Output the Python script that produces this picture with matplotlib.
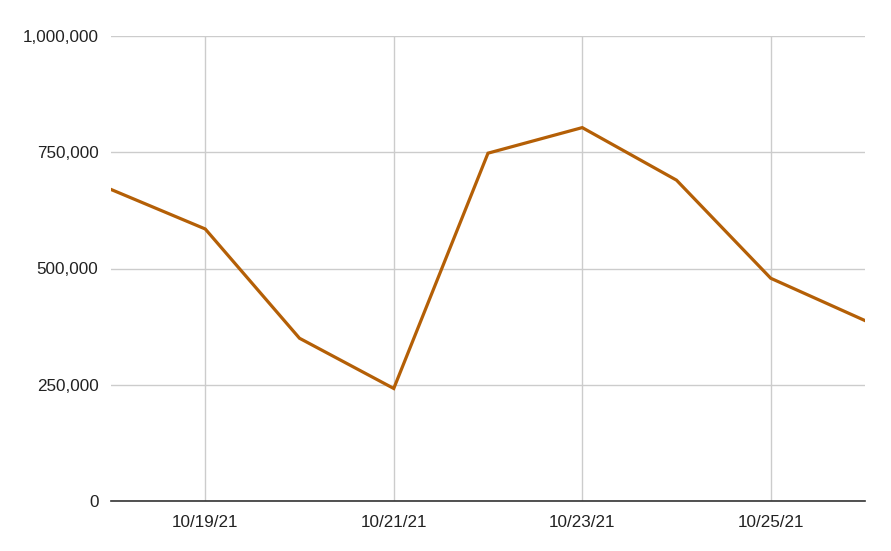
import datetime as dt
import matplotlib
matplotlib.use('Agg')
import matplotlib.pyplot as plt
import matplotlib.dates as mdates
from matplotlib.ticker import FuncFormatter, MultipleLocator

# Daily values
dates = ['2021-10-18', '2021-10-19', '2021-10-20', '2021-10-21', '2021-10-22',
         '2021-10-23', '2021-10-24', '2021-10-25', '2021-10-26']
values = [670000, 585000, 350000, 242000, 748000, 803000, 690000, 479000, 388000]
tick_dates = ['2021-10-19', '2021-10-21', '2021-10-23', '2021-10-25']

days = [dt.datetime.strptime(d, '%Y-%m-%d') for d in dates]
ticks = [dt.datetime.strptime(d, '%Y-%m-%d') for d in tick_dates]

plt.rcParams['font.family'] = ['Liberation Sans', 'DejaVu Sans']

fig = plt.figure(figsize=(8.91, 5.51), dpi=100)
ax = fig.add_axes([111 / 891, 50 / 551, 754 / 891, 465 / 551])

ax.plot(days, values, color='#b45f06', lw=2.3, solid_joinstyle='miter', zorder=3)

ax.set_xlim(days[0], days[-1])
ax.set_ylim(0, 1000000)
ax.set_xticks(ticks)
ax.xaxis.set_major_formatter(FuncFormatter(
    lambda x, pos: mdates.num2date(x).strftime('%m/%d/%y')))
ax.yaxis.set_major_locator(MultipleLocator(250000))
ax.yaxis.set_major_formatter(FuncFormatter(lambda v, pos: f'{int(v):,}'))

ax.grid(True, color='#cccccc', lw=1)
ax.set_axisbelow(True)
for side in ['top', 'right', 'left']:
    ax.spines[side].set_visible(False)
ax.spines['bottom'].set_color('#333333')
ax.spines['bottom'].set_linewidth(1.2)
ax.spines['bottom'].set_zorder(4)
ax.tick_params(length=0, labelsize=12.3, colors='#222222', pad=9)
ax.tick_params(axis='x', pad=10)

fig.savefig('out.png', dpi=100)
